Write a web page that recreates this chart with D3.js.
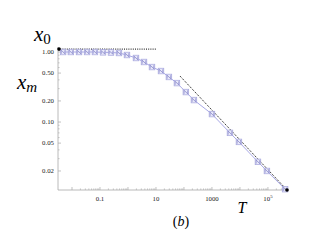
<!DOCTYPE html>
<html><head><meta charset="utf-8">
<script src="https://cdn.jsdelivr.net/npm/d3@7"></script>
<style>body{margin:0;background:#fff}svg{display:block}
svg text{font-family:"Liberation Serif","DejaVu Serif",serif}</style>
</head><body>
<script>
// data
const T  = [0.0048,0.0091,0.0178,0.0345,0.066,0.128,0.247,0.476,0.92,1.93,3.73,7.2,15.1,29,56,117,227,1000,4400,9200,44000,92000,410000];
const xm = [1.0,1.0,1.0,1.0,1.0,0.99,0.985,0.968,0.906,0.821,0.72,0.61,0.535,0.44,0.36,0.268,0.206,0.13,0.07,0.052,0.027,0.020,0.011];
const x0 = 1.1;
const flatEndT = 10;
const asymStart = [72, 0.454];
const asymEnd = [4.8e5, 0.0107];
const yTickLabels = [1.0, 0.5, 0.2, 0.1, 0.05, 0.02];
const yTickText = ["1.00","0.50","0.20","0.10","0.05","0.02"];
const xTickLabels = [0.1, 10, 1000, 1e5];

const W=327,H=246;
const svg=d3.select("body").append("svg").attr("width",W).attr("height",H);
const x=d3.scaleLog().domain([0.00316,4.8e5]).range([58,287]);
const y=d3.scaleLog().domain([0.0107,1.179]).range([190,47]);
const axisCol="#a8a8a8";

svg.append("line").attr("x1",x.range()[0]).attr("x2",x.range()[1]).attr("y1",y.range()[0]).attr("y2",y.range()[0]).attr("stroke",axisCol).attr("stroke-width",0.8);
svg.append("line").attr("x1",x.range()[0]).attr("x2",x.range()[0]).attr("y1",y.range()[0]).attr("y2",y.range()[1]).attr("stroke",axisCol).attr("stroke-width",0.8);

const yMinor=[];
for(let e=-2;e<=0;e++)for(let m=1;m<=9;m++){const v=m*Math.pow(10,e);if(v>=y.domain()[0]&&v<=y.domain()[1]&&!yTickLabels.some(t=>Math.abs(t-v)<1e-9))yMinor.push(v);}
const gy=svg.append("g");
yTickLabels.forEach((v,i)=>{
  gy.append("line").attr("x1",x.range()[0]).attr("x2",x.range()[0]+3).attr("y1",y(v)).attr("y2",y(v)).attr("stroke",axisCol).attr("stroke-width",0.7);
  gy.append("text").attr("x",x.range()[0]-4).attr("y",y(v)+2.3).attr("text-anchor","end").attr("font-size",6.8).attr("fill","#222").text(yTickText[i]);
});
yMinor.forEach(v=>gy.append("line").attr("x1",x.range()[0]).attr("x2",x.range()[0]+1.6).attr("y1",y(v)).attr("y2",y(v)).attr("stroke",axisCol).attr("stroke-width",0.6));

const gx=svg.append("g");
for(let e=-2;e<=5;e++){
  const v=Math.pow(10,e);
  gx.append("line").attr("x1",x(v)).attr("x2",x(v)).attr("y1",y.range()[0]).attr("y2",y.range()[0]-3).attr("stroke",axisCol).attr("stroke-width",0.7);
  for(let m=2;m<=9;m++){const w=m*v;if(w<=x.domain()[1]&&w>=x.domain()[0])gx.append("line").attr("x1",x(w)).attr("x2",x(w)).attr("y1",y.range()[0]).attr("y2",y.range()[0]-1.6).attr("stroke",axisCol).attr("stroke-width",0.6);}
}
xTickLabels.forEach(v=>{
  const t=gx.append("text").attr("x",x(v)).attr("y",201).attr("text-anchor","middle").attr("font-size",6.8).attr("fill","#222");
  if(v>=1e4){t.append("tspan").text("10");t.append("tspan").attr("dy",-3).attr("font-size",4.8).text(Math.round(Math.log10(v)));}
  else t.text(d3.format("~g")(v));
});

svg.append("line").attr("x1",x(x.domain()[0])).attr("x2",x(flatEndT)).attr("y1",y(x0)).attr("y2",y(x0)).attr("stroke","#000").attr("stroke-width",1).attr("stroke-dasharray","1,1.2");
svg.append("line").attr("x1",x(asymStart[0])).attr("x2",x(asymEnd[0])).attr("y1",y(asymStart[1])).attr("y2",y(asymEnd[1])).attr("stroke","#000").attr("stroke-width",1).attr("stroke-dasharray","1,1.2");

const pts=T.map((t,i)=>[t,xm[i]]);
svg.append("path").attr("d",d3.line().x(d=>x(d[0])).y(d=>y(d[1]))(pts)).attr("fill","none").attr("stroke","#a8a8e6").attr("stroke-width",1);
const s=2.8;
const gm=svg.append("g");
pts.forEach(d=>{
  const cx=x(d[0]),cy=y(d[1]);
  gm.append("rect").attr("x",cx-s).attr("y",cy-s).attr("width",2*s).attr("height",2*s).attr("fill","#e2e2f8").attr("fill-opacity",0.8).attr("stroke","#a4a4dc").attr("stroke-width",0.7);
  gm.append("path").attr("d",`M${cx-s+1},${cy-s+1}L${cx+s-1},${cy+s-1}M${cx-s+1},${cy+s-1}L${cx-s+1},${cy-s+1}M${cx+s-1},${cy-s+1}L${cx+s-1},${cy+s-1}`).attr("stroke","#7474c0").attr("stroke-width",0.6).attr("fill","none");
});

svg.append("circle").attr("cx",x(x.domain()[0])+1).attr("cy",y(x0)).attr("r",1.8).attr("fill","#000");
svg.append("circle").attr("cx",x(asymEnd[0])).attr("cy",y(asymEnd[1])).attr("r",1.8).attr("fill","#000");

const l0=svg.append("text").attr("x",34).attr("y",41).attr("font-size",21).attr("fill","#000");
l0.append("tspan").attr("font-style","italic").text("x");
l0.append("tspan").attr("dy",3).attr("font-size",15).text("0");
const lm=svg.append("text").attr("x",17).attr("y",89).attr("font-size",21).attr("fill","#000");
lm.append("tspan").attr("font-style","italic").text("x");
lm.append("tspan").attr("dy",3).attr("font-size",15).attr("font-style","italic").text("m");
svg.append("text").attr("x",242).attr("y",213).attr("text-anchor","middle").attr("font-style","italic").attr("font-size",16).attr("fill","#000").text("T");
const lb=svg.append("text").attr("x",181).attr("y",226).attr("text-anchor","middle").attr("font-size",14).attr("fill","#000");
lb.append("tspan").text("(");lb.append("tspan").attr("font-style","italic").text("b");lb.append("tspan").text(")");
</script>
</body></html>
